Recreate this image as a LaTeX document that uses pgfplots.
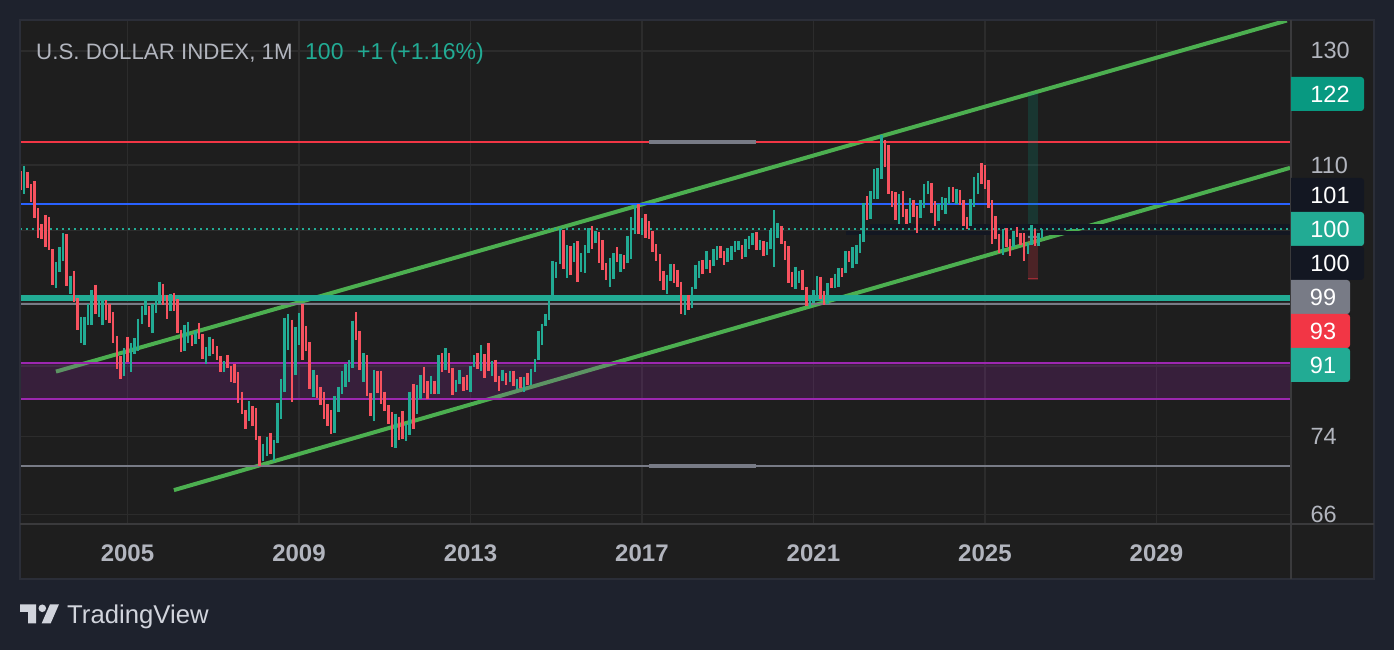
\documentclass[border=0pt]{standalone}
\usepackage{pgfplots}
\usepackage{pgfplotstable}
\usepackage{fontspec}
\setmainfont{Liberation Sans}
\pgfplotsset{compat=1.18}
\definecolor{outer}{HTML}{1E222D}
\definecolor{panel}{HTML}{1E1E1E}
\definecolor{gridc}{HTML}{2C2C2C}
\definecolor{framec}{HTML}{2B2E38}
\definecolor{sepc}{HTML}{3A3A3C}
\definecolor{upc}{HTML}{22AB94}
\definecolor{downc}{HTML}{F7525F}
\definecolor{chan}{HTML}{4CAF50}
\definecolor{redl}{HTML}{F23645}
\definecolor{bluel}{HTML}{2962FF}
\definecolor{greyl}{HTML}{787B86}
\definecolor{purp}{HTML}{9C27B0}
\definecolor{tgt}{HTML}{089981}
\definecolor{strip}{HTML}{131722}
\definecolor{txt}{HTML}{B2B5BE}
\definecolor{logo}{HTML}{D1D4DC}
\pgfplotstableread{
i hi lo
0 109.09 106.08
2 108.93 106.40
3 107.02 104.21
4 107.50 101.85
5 103.32 98.90
6 100.97 98.76
7 102.29 97.59
8 102.00 97.14
9 97.29 92.36
13 99.50 92.22
15 94.27 90.06
16 90.58 86.49
21 92.36 88.53
24 90.31 87.77
25 89.80 87.39
26 88.78 84.84
27 85.73 81.71
28 83.24 80.52
30 85.60 82.53
36 89.55 86.87
40 92.50 89.67
41 90.99 87.90
43 91.27 88.91
44 90.45 86.11
45 86.49 83.71
48 85.86 84.46
50 87.39 85.35
51 85.99 82.89
54 85.35 83.48
55 84.46 82.77
56 83.24 81.35
58 83.36 81.83
59 82.06 80.16
60 82.30 80.05
61 81.24 77.71
62 79.00 76.50
63 76.94 74.86
65 77.38 75.08
66 77.16 73.65
67 74.09 70.82
70 74.42 72.14
76 87.77 77.82
79 89.80 82.77
80 87.00 83.83
81 84.97 79.34
83 81.00 78.28
84 79.58 77.49
85 79.00 75.95
86 77.60 75.08
87 76.94 74.31
94 88.78 85.22
95 86.36 81.59
97 83.36 78.51
98 78.87 76.28
100 81.47 78.87
101 81.47 77.60
102 79.00 76.83
103 77.49 75.41
104 76.72 72.88
106 76.17 73.65
107 76.83 73.76
110 79.93 74.86
113 81.95 78.87
114 80.28 78.16
116 80.28 78.75
118 83.60 81.35
120 83.60 81.12
121 81.83 78.63
124 80.76 79.10
125 81.00 79.22
128 83.60 81.71
130 83.48 80.64
131 84.84 81.47
133 82.77 80.16
134 80.88 79.10
136 81.12 79.81
138 81.47 79.69
140 80.76 79.46
142 81.12 79.81
152 100.08 94.55
154 97.73 93.73
156 98.46 92.77
160 100.67 97.29
162 99.79 95.36
163 98.61 94.41
164 95.36 93.04
167 97.59 95.50
169 96.46 94.55
173 103.91 99.50
175 102.44 98.90
176 101.41 98.76
177 99.94 96.87
178 98.02 95.63
179 96.60 92.91
180 94.27 91.68
183 95.23 92.63
184 94.41 92.09
185 92.77 88.53
187 90.99 89.04
191 95.77 93.86
193 95.77 94.00
196 97.73 96.05
197 97.00 95.09
202 97.88 95.91
206 99.79 97.14
208 98.46 96.32
213 100.67 98.02
214 98.46 95.77
215 97.73 92.63
216 94.14 92.09
219 94.41 91.68
220 92.09 89.55
224 93.45 90.45
225 91.54 89.67
227 93.32 91.95
230 94.68 93.45
232 97.00 95.50
237 105.13 101.56
242 114.07 109.72
243 113.24 105.45
244 105.92 103.47
245 105.76 101.56
247 105.92 102.00
248 103.18 100.97
250 104.50 102.00
251 103.62 99.64
255 107.18 102.59
256 104.35 100.67
261 106.56 104.21
263 106.08 103.76
264 104.50 100.67
265 102.00 100.23
269 110.36 107.02
270 110.04 106.24
271 107.66 103.32
272 104.50 98.02
273 102.15 98.76
274 99.50 96.73
276 100.38 97.59
277 98.76 96.32
279 100.52 99.05
280 99.64 97.88
281 99.64 95.63
284 100.23 97.73
}\downbars
\pgfplotstableread{
i hi lo
1 109.88 105.45
10 95.50 91.95
11 97.59 94.14
12 99.64 95.63
14 93.59 91.13
17 88.15 84.84
18 88.15 84.59
19 89.80 87.13
20 91.68 87.13
22 90.31 88.15
23 90.31 87.13
29 84.20 80.88
31 84.84 81.35
32 85.47 83.48
33 87.90 83.83
34 89.55 87.26
35 90.58 88.40
37 89.80 86.11
38 90.31 88.66
39 92.77 89.80
42 91.13 88.91
46 87.13 83.83
47 87.51 84.84
49 86.36 84.71
52 84.33 82.30
53 85.60 83.24
57 82.65 81.35
64 77.93 75.73
68 73.21 71.33
69 73.98 71.94
71 73.65 71.43
72 77.71 73.32
73 80.52 75.95
74 88.02 79.00
75 88.53 83.95
77 86.87 81.00
78 88.66 84.59
82 81.59 78.39
88 78.51 74.42
89 79.58 76.72
90 81.47 78.75
91 82.30 79.58
92 82.77 80.16
93 87.64 81.83
96 83.60 80.16
99 81.59 75.73
105 76.50 72.77
108 75.41 73.54
109 79.00 74.20
111 79.81 76.50
112 81.00 78.16
115 80.88 78.75
117 83.36 78.75
119 84.20 81.59
122 80.40 79.00
123 81.59 79.93
126 82.06 79.00
127 83.36 81.95
129 84.59 81.47
132 82.65 80.88
135 81.59 80.28
137 81.47 80.16
139 80.52 79.34
141 80.76 79.00
143 81.71 79.81
144 82.89 81.35
145 86.36 82.77
146 87.26 84.59
147 88.53 87.00
148 90.31 87.77
149 95.63 90.31
150 95.50 93.32
151 100.38 95.23
153 97.88 93.32
155 98.17 95.50
157 96.73 94.14
158 97.88 94.00
159 100.38 96.73
161 99.94 98.17
165 96.05 92.09
166 96.73 93.18
168 96.60 94.14
170 99.20 95.36
171 102.00 95.91
172 103.76 99.50
174 101.85 99.35
181 93.73 91.13
182 95.23 92.91
186 90.72 88.40
188 92.09 89.29
189 95.09 91.82
190 95.63 93.32
192 97.00 94.55
194 97.29 94.95
195 97.73 95.77
198 97.44 95.50
199 97.73 95.77
200 98.46 96.87
201 98.46 97.14
203 98.76 96.19
204 99.20 97.29
205 99.64 97.88
207 98.61 97.14
209 98.32 96.46
210 100.08 97.29
211 103.03 94.82
212 101.12 98.90
217 94.82 91.82
218 94.27 92.63
221 90.99 89.42
222 91.68 89.93
223 93.59 90.85
226 92.63 89.80
228 93.86 91.95
229 94.68 92.09
231 97.00 94.00
233 97.59 94.68
234 97.88 95.23
235 99.50 96.73
236 104.06 98.32
238 105.92 101.71
239 109.41 104.66
240 109.57 104.66
241 114.90 107.82
246 105.45 100.97
249 104.82 101.12
252 104.50 101.85
253 107.02 103.32
254 107.50 105.45
257 103.91 101.41
258 104.97 103.03
259 104.82 102.44
260 106.56 103.91
262 106.24 103.91
266 104.66 100.67
267 108.14 103.47
268 108.77 105.45
275 100.23 96.46
278 99.94 97.59
282 98.17 96.60
283 100.82 97.88
285 99.64 97.73
286 100.23 98.90
}\upbars
\begin{document}
\begin{tikzpicture}[x=1pt,y=1pt]
\fill[outer] (0,0) rectangle (1394,650);
\fill[panel] (20,71) rectangle (1374,630);
\begin{axis}[
  at={(20pt,125.4pt)}, anchor=south west,
  scale only axis, width=1270pt, height=504pt,
  ymode=log, xmin=-0.08, xmax=355.4, ymin=65.05, ymax=135.9,
  axis line style={draw=none},
  major tick length=0pt,
  xtick={30,78,126,174,222,270,318},
  xticklabels={2005,2009,2013,2017,2021,2025,2029},
  ytick={66,74,82,90,100,110,130},
  yticklabels={66,74,,,,110,130},
  yticklabel pos=right,
  xmajorgrids, ymajorgrids,
  grid style={gridc,line width=1.6pt},
  xticklabel style={font=\fontsize{24}{24}\selectfont\bfseries,text=txt,anchor=base,yshift=-37pt},
  yticklabel style={font=\fontsize{23.5}{23.5}\selectfont,text=txt,anchor=west,xshift=17pt},
  clip=true,
  axis on top=false,
]
% channel
\addplot[chan,line width=4pt,forget plot] coordinates {(9.99,81.35) (354.5,135.9)};
\addplot[chan,line width=4pt,forget plot] coordinates {(43.0,68.41) (355.4,109.57)};
% horizontal levels
\addplot[redl,line width=2pt,forget plot] coordinates {(-0.08,113.73) (355.4,113.73)};
\addplot[bluel,line width=2pt,forget plot] coordinates {(-0.08,103.9) (355.4,103.9)};
\addplot[greyl,line width=2pt,forget plot] coordinates {(-0.08,70.85) (355.4,70.85)};
\addplot[greyl,line width=2pt,forget plot] coordinates {(-0.08,89.80) (355.4,89.80)};
\addplot[upc,line width=6pt,forget plot] coordinates {(-0.08,90.58) (355.4,90.58)};
\addplot[greyl,line width=4pt,forget plot] coordinates {(176,113.73) (206,113.73)};
\addplot[greyl,line width=4pt,forget plot] coordinates {(176,70.85) (206,70.85)};
% purple band
\addplot[draw=none,fill=purp,fill opacity=0.2,forget plot] coordinates {(-0.08,82.41) (355.4,82.41) (355.4,78.16) (-0.08,78.16)} -- cycle;
\addplot[purp,line width=2pt,forget plot] coordinates {(-0.08,82.41) (355.4,82.41)};
\addplot[purp,line width=2pt,forget plot] coordinates {(-0.08,78.16) (355.4,78.16)};
% position tool
\addplot[draw=none,fill=tgt,fill opacity=0.2,forget plot] coordinates {(282,122.18) (284.9,122.18) (284.9,99.05) (282,99.05)} -- cycle;
\addplot[draw=none,fill=redl,fill opacity=0.22,forget plot] coordinates {(282,99.05) (284.9,99.05) (284.9,93.04) (282,93.04)} -- cycle;
\addplot[redl!60!panel,line width=1.5pt,forget plot] coordinates {(282,93.2) (284.9,93.2)};
\addplot[greyl,line width=2pt,forget plot] coordinates {(282,99.05) (284.9,99.05)};
% dark strips
\addplot[draw=none,fill=strip,forget plot] coordinates {(237.8,100.97) (355.4,100.97) (355.4,100.23) (237.8,100.23)} -- cycle;
\addplot[draw=none,fill=strip,forget plot] coordinates {(231,99.94) (355.4,99.94) (355.4,99.35) (231,99.35)} -- cycle;
% price line
\addplot[upc,line width=2pt,dash pattern=on 2pt off 4pt,forget plot] coordinates {(-0.08,100.23) (355.4,100.23)};
% bars
\addplot[draw=none,mark=none,forget plot,
  error bars/.cd,y dir=minus,y explicit,error mark=none,error bar style={draw=downc,line width=2.5pt,solid}]
  table[x=i,y=hi,y error expr=\thisrow{hi}-\thisrow{lo}] {\downbars};
\addplot[draw=none,mark=none,forget plot,
  error bars/.cd,y dir=minus,y explicit,error mark=none,error bar style={draw=upc,line width=2.5pt,solid}]
  table[x=i,y=hi,y error expr=\thisrow{hi}-\thisrow{lo}] {\upbars};
\end{axis}
% frame
\draw[framec,line width=2pt] (20,71) rectangle (1374,630);
\draw[sepc,line width=1.8pt] (20,126) -- (1374,126);
\draw[sepc,line width=1.8pt] (1291,71) -- (1291,630);
% header
\node[anchor=base west,inner sep=0pt,text=txt,font=\fontsize{22.3}{23}\selectfont] at (36,590) {U.S. DOLLAR INDEX, 1M};
\node[anchor=base west,inner sep=0pt,text=upc,font=\fontsize{23}{23}\selectfont] at (305,590) {100};
\node[anchor=base west,inner sep=0pt,text=upc,font=\fontsize{23}{23}\selectfont] at (357,590) {+1 (+1.16\%)};
% price labels
\newcommand\pricebox[4]{% right, topY, fill, label
  \fill[#3] (1291,650-#2) [rounded corners=3pt] -- (#1,650-#2) -- (#1,650-#2-34) [sharp corners] -- (1291,650-#2-34) -- cycle;
  \node[anchor=center,inner sep=0pt,text=white,font=\fontsize{23.5}{23.5}\selectfont] at ({(#1+1290)/2+3},650-#2-17) {#4};
}
\pricebox{1364}{77}{tgt}{122}
\pricebox{1364}{178}{strip}{101}
\pricebox{1364}{212}{upc}{100}
\pricebox{1364}{246}{strip}{100}
\pricebox{1350}{280}{greyl}{99}
\pricebox{1350}{314}{redl}{93}
\pricebox{1350}{348}{upc}{91}
% logo
\fill[logo] (20,45.7) -- (36,45.7) -- (36,26.7) -- (28,26.7) -- (28,38) -- (20,38) -- cycle;
\fill[logo] (42.3,41.7) circle (3.8);
\fill[logo] (50,45.7) -- (59,45.7) -- (50.7,26.7) -- (41.7,26.7) -- cycle;
\node[anchor=base west,inner sep=0pt,text=logo,font=\fontsize{25.7}{25}\selectfont] at (67,26) {TradingView};
\end{tikzpicture}
\end{document}
